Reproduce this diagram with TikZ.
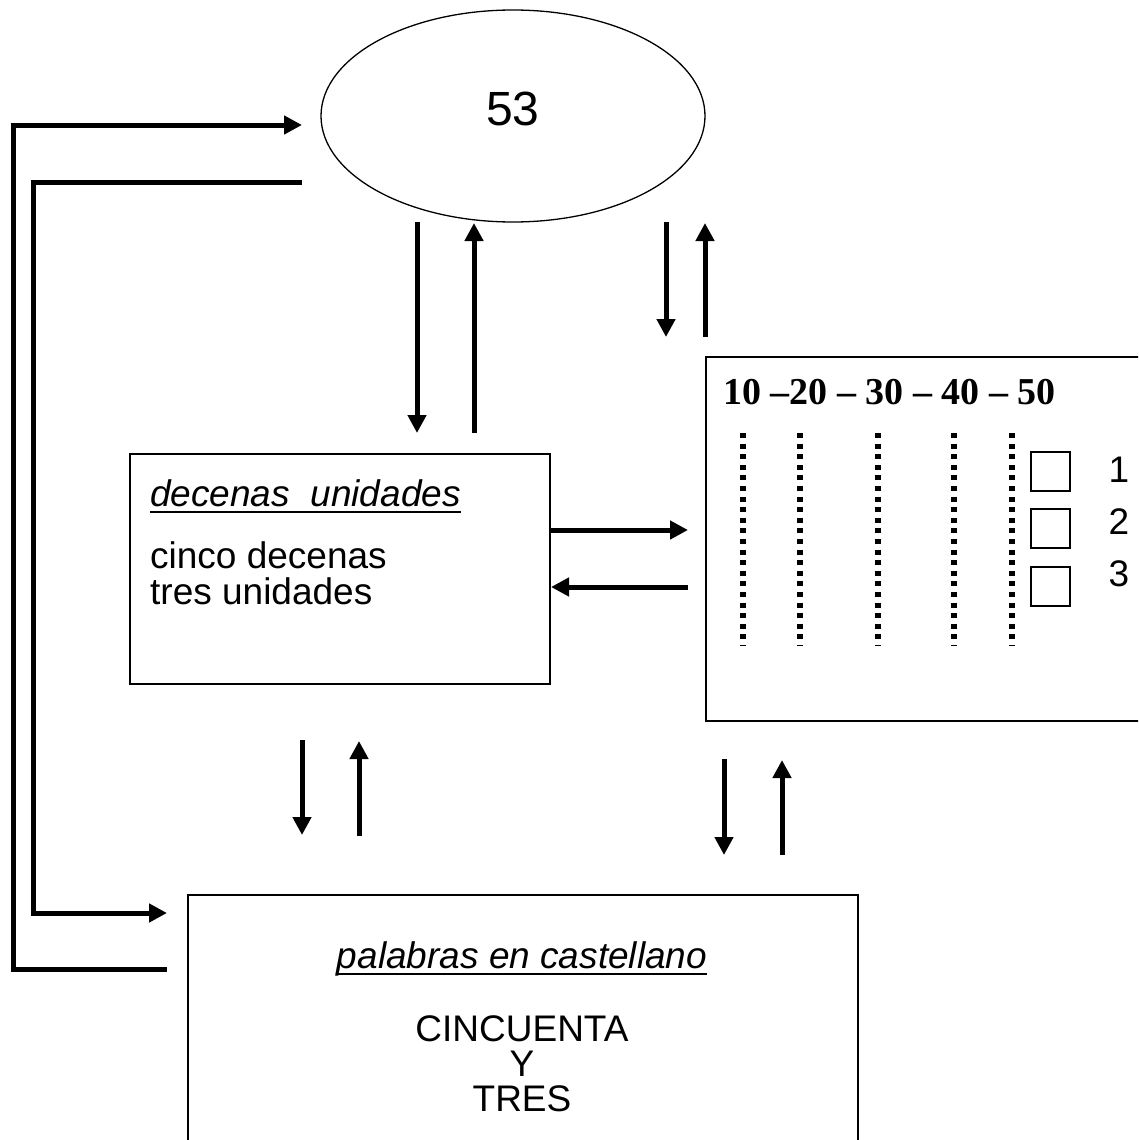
\documentclass[tikz,border=0pt]{standalone}
\usepackage{fontspec}
\setmainfont{Liberation Sans}
\newfontfamily\timesfam{Liberation Serif}
\usetikzlibrary{arrows.meta,shapes.geometric}
\newcommand\ulbox[1]{\setbox0\hbox{#1}\rlap{\rule[-7pt]{\wd0}{2.5pt}}\box0}
\begin{document}
\begin{tikzpicture}[x=1pt,y=-1pt,
  txt/.style={inner sep=0pt, font=\fontsize{37}{42}\selectfont},
  boxst/.style={draw, line width=1.8pt, inner sep=0pt},
  arr/.style={line width=5pt, -{Triangle[length=18pt,width=18pt]}},
  loopst/.style={line width=5pt, line join=miter},
  dotcol/.style={line width=5.5pt, dash pattern=on 5pt off 5.6pt},
  small/.style={draw, line width=1.4pt, minimum size=39pt, inner sep=0pt}]
\useasboundingbox (0,0) rectangle (1138,1140);
\clip (0,0) rectangle (1138,1140);
% ellipse
\node[ellipse, draw, line width=1.3pt, minimum width=384pt, minimum height=212pt, inner sep=0pt] (num) at (513,116) {};
\node[inner sep=0pt, font=\fontsize{48}{54}\selectfont] (numt) at (513,109) {53};
% middle box
\node[boxst, minimum width=420pt, minimum height=230pt, anchor=north west] (du) at (129,453) {};
\node[txt, anchor=base west] (dut) at (150,506) {\itshape\ulbox{decenas\ \ unidades}};
\node[txt, anchor=base west] (du1) at (150,568) {cinco decenas};
\node[txt, anchor=base west] (du2) at (150,604) {tres unidades};
% right box
\node[boxst, minimum width=470pt, minimum height=364pt, anchor=north west] (tens) at (705,356) {};
\node[inner sep=0pt, anchor=base west, font=\timesfam\bfseries\fontsize{38}{42}\selectfont] (tt) at (723,404) {10 –20 – 30 – 40 – 50};
\foreach \x [count=\i] in {743,800,878,954,1012} {
  \coordinate (c\i t) at (\x,433);
  \coordinate (c\i b) at (\x,646);
  \draw[dotcol] (c\i t) -- (c\i b);
}
\node[small] (sq1) at (1050.5,471.5) {};
\node[small] (sq2) at (1050.5,528.5) {};
\node[small] (sq3) at (1050.5,586.5) {};
\node[txt] (n1) at (1119,470) {1};
\node[txt] (n2) at (1119,522) {2};
\node[txt] (n3) at (1119,573.5) {3};
% bottom box
\node[boxst, minimum width=670pt, minimum height=320pt, anchor=north west] (words) at (187,894) {};
\node[txt, anchor=base] (wt) at (522,968) {\itshape\ulbox{palabras en castellano}};
\node[txt, anchor=base] (w1) at (522,1041) {CINCUENTA};
\node[txt, anchor=base] (w2) at (522,1076) {Y};
\node[txt, anchor=base] (w3) at (522,1111) {TRES};
% arrow end points
\coordinate (e1a) at (417,222); \coordinate (e1b) at (417,433);
\coordinate (e2a) at (474,433); \coordinate (e2b) at (474,223);
\coordinate (e3a) at (666,222); \coordinate (e3b) at (666,337);
\coordinate (e4a) at (705,337); \coordinate (e4b) at (705,223);
\coordinate (m1a) at (302,740); \coordinate (m1b) at (302,835);
\coordinate (m2a) at (359,836); \coordinate (m2b) at (359,741);
\coordinate (r1a) at (724,759); \coordinate (r1b) at (724,855);
\coordinate (r2a) at (782,855); \coordinate (r2b) at (782,760);
\coordinate (h1a) at (549,530); \coordinate (h1b) at (688,530);
\coordinate (h2a) at (688,587); \coordinate (h2b) at (551,587);
\foreach \a/\b in {e1a/e1b,e2a/e2b,e3a/e3b,e4a/e4b,m1a/m1b,m2a/m2b,r1a/r1b,r2a/r2b,h1a/h1b,h2a/h2b}
  \draw[arr] (\a) -- (\b);
% loops
\coordinate (lo1) at (167,969); \coordinate (lo2) at (13,969);
\coordinate (lo3) at (13,125); \coordinate (lo4) at (302,125);
\draw[loopst, arr] (lo1) -- (lo2) -- (lo3) -- (lo4);
\coordinate (li1) at (302,182); \coordinate (li2) at (33,182);
\coordinate (li3) at (33,913); \coordinate (li4) at (167,913);
\draw[loopst, arr] (li1) -- (li2) -- (li3) -- (li4);
\end{tikzpicture}
\end{document}
